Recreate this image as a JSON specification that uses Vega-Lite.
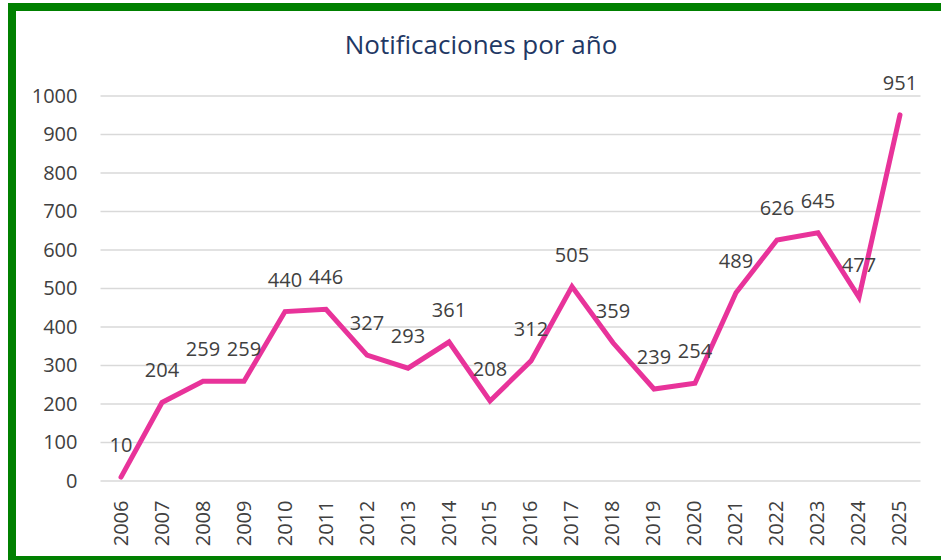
{
  "$schema": "https://vega.github.io/schema/vega-lite/v6.json",
  "width": 938,
  "height": 553,
  "autosize": {"type": "none"},
  "padding": {"left": 12, "top": 7, "right": 0, "bottom": 0},
  "background": "white",
  "config": {
    "view": {"stroke": "#008000", "strokeWidth": 8, "fill": "white"},
    "font": "Open Sans"
  },
  "title": {
    "text": "Notificaciones por año",
    "orient": "top",
    "anchor": "middle",
    "offset": -52,
    "fontSize": 26,
    "fontWeight": "normal",
    "font": "Open Sans",
    "color": "#1F3864"
  },
  "datasets": {
    "grid": [
      {"v": 0}, {"v": 100}, {"v": 200}, {"v": 300}, {"v": 400}, {"v": 500},
      {"v": 600}, {"v": 700}, {"v": 800}, {"v": 900}, {"v": 1000}
    ],
    "main": [
      {"year": 2006, "n": 10},
      {"year": 2007, "n": 204},
      {"year": 2008, "n": 259},
      {"year": 2009, "n": 259},
      {"year": 2010, "n": 440},
      {"year": 2011, "n": 446},
      {"year": 2012, "n": 327},
      {"year": 2013, "n": 293},
      {"year": 2014, "n": 361},
      {"year": 2015, "n": 208},
      {"year": 2016, "n": 312},
      {"year": 2017, "n": 505},
      {"year": 2018, "n": 359},
      {"year": 2019, "n": 239},
      {"year": 2020, "n": 254},
      {"year": 2021, "n": 489},
      {"year": 2022, "n": 626},
      {"year": 2023, "n": 645},
      {"year": 2024, "n": 477},
      {"year": 2025, "n": 951}
    ]
  },
  "layer": [
    {
      "data": {"name": "grid"},
      "mark": {"type": "rule", "color": "#D9D9D9", "strokeWidth": 1.5},
      "encoding": {
        "x": {"datum": 2005.5, "type": "quantitative"},
        "x2": {"datum": 2025.5},
        "y": {"field": "v", "type": "quantitative"}
      }
    },
    {
      "data": {"name": "main"},
      "mark": {"type": "line", "color": "#E8339A", "strokeWidth": 5, "strokeCap": "round", "strokeJoin": "miter"},
      "encoding": {
        "x": {
          "field": "year",
          "type": "quantitative",
          "scale": {"domain": [2003.341, 2026.22], "nice": false, "zero": false},
          "axis": {
            "title": null,
            "orient": "bottom",
            "offset": -79,
            "values": [2006,2007,2008,2009,2010,2011,2012,2013,2014,2015,2016,2017,2018,2019,2020,2021,2022,2023,2024,2025],
            "format": "d",
            "domain": false,
            "ticks": false,
            "grid": false,
            "labelAngle": -90,
            "labelPadding": 19,
            "labelFontSize": 20,
            "labelColor": "#404040",
            "labelFont": "Open Sans",
            "labelFlush": false,
            "labelOverlap": false
          }
        },
        "y": {
          "field": "n",
          "type": "quantitative",
          "scale": {"domain": [-205.2, 1231.2], "nice": false, "zero": false},
          "axis": {
            "title": null,
            "orient": "left",
            "offset": -89,
            "values": [0, 100, 200, 300, 400, 500, 600, 700, 800, 900, 1000],
            "format": "d",
            "domain": false,
            "ticks": false,
            "grid": false,
            "labelPadding": 24,
            "labelFontSize": 20,
            "labelColor": "#404040",
            "labelFont": "Open Sans",
            "labelFlush": false,
            "labelOverlap": false
          }
        }
      }
    },
    {
      "data": {"name": "main"},
      "mark": {"type": "text", "dy": -31, "fontSize": 20, "color": "#404040", "font": "Open Sans", "baseline": "middle", "align": "center"},
      "encoding": {
        "x": {"field": "year", "type": "quantitative"},
        "y": {"field": "n", "type": "quantitative"},
        "text": {"field": "n", "type": "quantitative"}
      }
    }
  ]
}
